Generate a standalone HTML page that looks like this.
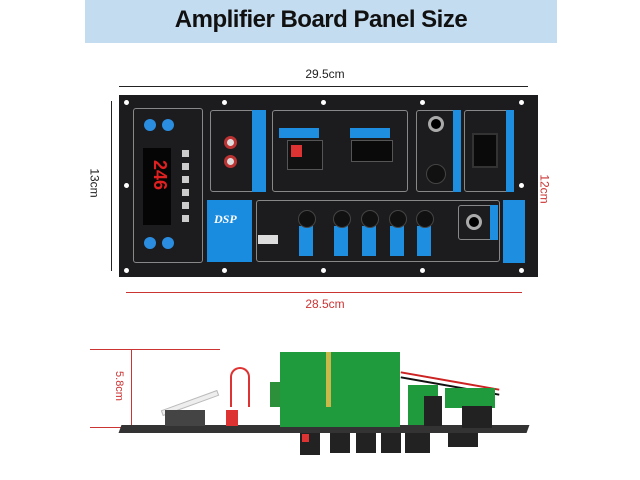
<!DOCTYPE html>
<html><head><style>
body{margin:0;width:640px;height:480px;background:#fff;position:relative;overflow:hidden;font-family:"Liberation Sans",sans-serif}
div{position:absolute;box-sizing:border-box}
.b{border:1px solid #888;border-radius:3px}
.bl{background:#1e8fe0}
.h{width:5px;height:5px;border-radius:50%;background:#fff}
.k{width:14px;height:14px;border-radius:50%;background:#111;border:1px solid #444}
.t{font-size:6px;color:#fff}
</style></head><body>
<div style="left:85px;top:0;width:472px;height:43px;background:#c4dcf0"></div>
<div style="left:85px;top:6px;width:472px;text-align:center;font-size:24px;font-weight:bold;color:#111;letter-spacing:-0.5px">Amplifier Board Panel Size</div>

<div style="left:119px;top:86px;width:409px;height:1px;background:#222"></div>
<div style="left:280px;top:67px;width:90px;text-align:center;font-size:12px;color:#222">29.5cm</div>
<div style="left:111px;top:101px;width:1px;height:170px;background:#222"></div>
<div style="left:80px;top:176px;font-size:12px;color:#222;transform:rotate(90deg)">13cm</div>
<div style="left:535px;top:102px;width:1px;height:166px;background:#c33"></div>
<div style="left:530px;top:182px;font-size:12px;color:#c33;transform:rotate(90deg)">12cm</div>
<div style="left:126px;top:292px;width:396px;height:1px;background:#c33"></div>
<div style="left:280px;top:297px;width:90px;text-align:center;font-size:12px;color:#c33">28.5cm</div>

<div style="left:119px;top:95px;width:419px;height:182px;background:#1c1c1e"></div>
<div class="h" style="left:124px;top:100px"></div><div class="h" style="left:222px;top:100px"></div><div class="h" style="left:321px;top:100px"></div><div class="h" style="left:420px;top:100px"></div><div class="h" style="left:519px;top:100px"></div>
<div class="h" style="left:124px;top:268px"></div><div class="h" style="left:222px;top:268px"></div><div class="h" style="left:321px;top:268px"></div><div class="h" style="left:420px;top:268px"></div><div class="h" style="left:519px;top:268px"></div>
<div class="h" style="left:124px;top:183px"></div><div class="h" style="left:519px;top:183px"></div>

<div class="b" style="left:133px;top:108px;width:70px;height:155px"></div>
<div style="left:143px;top:148px;width:28px;height:77px;background:#050505"></div>
<div style="left:145px;top:160px;font-size:18px;color:#e02020;font-weight:bold;transform:rotate(90deg);transform-origin:left top;left:170px">246</div>
<div style="left:144px;top:119px;width:12px;height:12px;border-radius:50%;background:#2a8de0"></div>
<div style="left:162px;top:119px;width:12px;height:12px;border-radius:50%;background:#2a8de0"></div>
<div style="left:144px;top:237px;width:12px;height:12px;border-radius:50%;background:#2a8de0"></div>
<div style="left:162px;top:237px;width:12px;height:12px;border-radius:50%;background:#2a8de0"></div>
<div style="left:182px;top:150px;width:7px;height:74px;background:repeating-linear-gradient(#ccc 0 7px,transparent 7px 13px)"></div>

<div class="b" style="left:210px;top:110px;width:56px;height:82px"></div>
<div class="bl" style="left:252px;top:110px;width:14px;height:82px"></div>
<div style="left:224px;top:136px;width:13px;height:13px;border-radius:50%;background:#ddd;border:3px solid #b33"></div>
<div style="left:224px;top:155px;width:13px;height:13px;border-radius:50%;background:#ddd;border:3px solid #b33"></div>

<div class="b" style="left:272px;top:110px;width:136px;height:82px"></div>
<div class="bl" style="left:279px;top:128px;width:40px;height:10px"></div>
<div style="left:287px;top:140px;width:36px;height:30px;background:#111;border:1px solid #555"></div>
<div style="left:291px;top:145px;width:11px;height:12px;background:#d33"></div>
<div class="bl" style="left:350px;top:128px;width:40px;height:10px"></div>
<div style="left:351px;top:140px;width:42px;height:22px;background:#0a0a0a;border:1px solid #555"></div>

<div class="b" style="left:416px;top:110px;width:45px;height:82px"></div>
<div class="bl" style="left:453px;top:110px;width:8px;height:82px"></div>
<div style="left:428px;top:116px;width:16px;height:16px;border-radius:50%;background:#000;border:3px solid #aaa"></div>
<div class="k" style="left:426px;top:164px;width:20px;height:20px"></div>
<div class="b" style="left:464px;top:110px;width:50px;height:82px"></div>
<div class="bl" style="left:506px;top:110px;width:8px;height:82px"></div>
<div style="left:472px;top:133px;width:26px;height:35px;background:#0a0a0a;border:2px solid #333"></div>

<div class="bl" style="left:207px;top:200px;width:45px;height:62px;background:#1a8ce0"></div>
<div style="left:214px;top:212px;font-size:12px;color:#fff;font-style:italic;font-family:'Liberation Serif',serif;font-weight:bold">DSP</div>
<div class="b" style="left:256px;top:200px;width:244px;height:62px"></div>
<div style="left:258px;top:235px;width:20px;height:9px;background:#ddd"></div>
<div class="bl" style="left:299px;top:226px;width:14px;height:30px"></div>
<div class="bl" style="left:334px;top:226px;width:14px;height:30px"></div>
<div class="bl" style="left:362px;top:226px;width:14px;height:30px"></div>
<div class="bl" style="left:390px;top:226px;width:14px;height:30px"></div>
<div class="bl" style="left:417px;top:226px;width:14px;height:30px"></div>
<div class="k" style="left:298px;top:210px;width:18px;height:18px"></div>
<div class="k" style="left:333px;top:210px;width:18px;height:18px"></div>
<div class="k" style="left:361px;top:210px;width:18px;height:18px"></div>
<div class="k" style="left:389px;top:210px;width:18px;height:18px"></div>
<div class="k" style="left:416px;top:210px;width:18px;height:18px"></div>
<div class="b" style="left:458px;top:205px;width:40px;height:35px"></div>
<div class="bl" style="left:490px;top:205px;width:8px;height:35px"></div>
<div style="left:466px;top:214px;width:16px;height:16px;border-radius:50%;background:#000;border:3px solid #aaa"></div>
<div class="bl" style="left:503px;top:200px;width:22px;height:63px"></div>

<!-- bottom photo -->
<div style="left:90px;top:349px;width:130px;height:1px;background:#c33"></div>
<div style="left:90px;top:427px;width:130px;height:1px;background:#c33"></div>
<div style="left:131px;top:349px;width:1px;height:78px;background:#c33"></div>
<div style="left:104px;top:380px;font-size:11px;color:#c33;transform:rotate(90deg)">5.8cm</div>
<div style="left:120px;top:425px;width:408px;height:8px;background:#333;transform:skewX(-20deg)"></div>
<div style="left:160px;top:400px;width:60px;height:6px;background:#eee;border:1px solid #bbb;transform:rotate(-20deg)"></div>
<div style="left:230px;top:367px;width:20px;height:40px;border:2px solid #d33;border-bottom:none;border-radius:10px 10px 0 0"></div>
<div style="left:226px;top:410px;width:12px;height:16px;background:#d33"></div>
<div style="left:165px;top:410px;width:40px;height:16px;background:#444"></div>
<div style="left:270px;top:382px;width:20px;height:25px;background:#2c8f3a"></div>
<div style="left:280px;top:352px;width:120px;height:75px;background:#1f9a3c"></div>
<div style="left:326px;top:352px;width:5px;height:55px;background:#c9b84a"></div>
<div style="left:400px;top:380px;width:100px;height:2px;background:#c22;transform:rotate(10deg)"></div>
<div style="left:400px;top:385px;width:100px;height:2px;background:#111;transform:rotate(10deg)"></div>
<div style="left:408px;top:385px;width:30px;height:40px;background:#1f9a3c"></div>
<div style="left:424px;top:396px;width:18px;height:30px;background:#222"></div>
<div style="left:445px;top:388px;width:50px;height:20px;background:#1f9a3c"></div>
<div style="left:462px;top:406px;width:30px;height:22px;background:#222"></div>
<div style="left:300px;top:433px;width:20px;height:22px;background:#222"></div>
<div style="left:302px;top:434px;width:7px;height:8px;background:#d33"></div>
<div style="left:330px;top:433px;width:20px;height:20px;background:#222"></div>
<div style="left:356px;top:433px;width:20px;height:20px;background:#222"></div>
<div style="left:381px;top:433px;width:20px;height:20px;background:#222"></div>
<div style="left:405px;top:433px;width:25px;height:20px;background:#222"></div>
<div style="left:448px;top:433px;width:30px;height:14px;background:#222"></div>
</body></html>
